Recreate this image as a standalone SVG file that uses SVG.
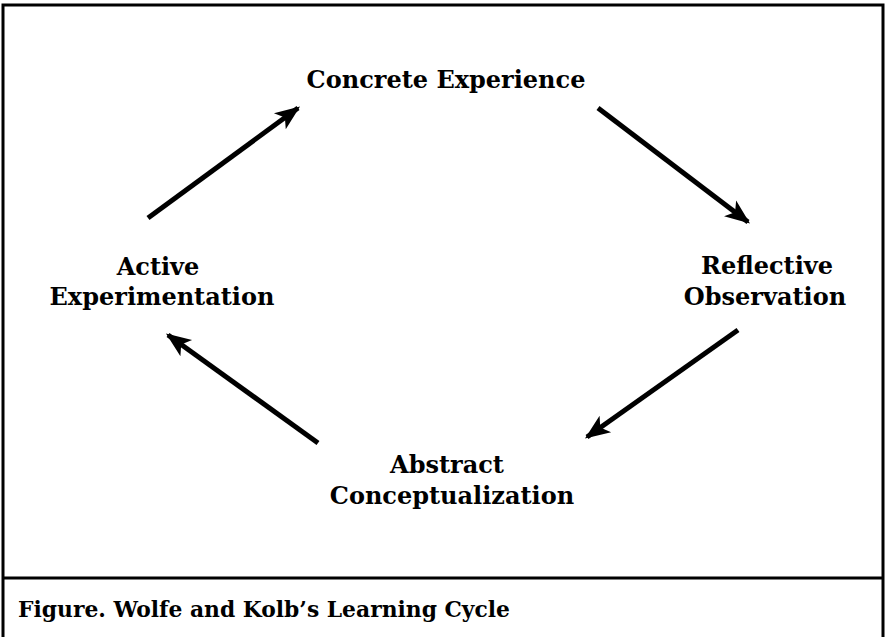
<svg xmlns="http://www.w3.org/2000/svg" width="886" height="637" viewBox="0 0 886 637">
<defs>
<style>
.lbl{font-family:"DejaVu Serif","Liberation Serif",serif;font-weight:bold;font-size:24px;fill:#000;text-anchor:middle}
.cap{font-family:"DejaVu Serif","Liberation Serif",serif;font-weight:bold;font-size:22px;fill:#000}
.conn line{stroke:#000;stroke-width:5;fill:none;marker-end:url(#ah)}
</style>
<marker id="ah" viewBox="0 0 10 10" refX="9" refY="5" markerWidth="5" markerHeight="5" orient="auto" markerUnits="strokeWidth">
<path d="M0,1 L10,5 L0,9 L2.5,5 Z" fill="#000"/>
</marker>
</defs>
<rect width="886" height="637" fill="#fff"/>
<g id="frame">
<path d="M3,637 V5 H883 V637" fill="none" stroke="#000" stroke-width="3"/>
<line x1="3" y1="578" x2="883" y2="578" stroke="#000" stroke-width="3"/>
</g>
<g id="concrete"><text class="lbl" x="446" y="88">Concrete Experience</text></g>
<g id="reflective"><text class="lbl" x="767" y="274">Reflective</text><text class="lbl" x="765" y="305">Observation</text></g>
<g id="abstract"><text class="lbl" x="447" y="473">Abstract</text><text class="lbl" x="452" y="504">Conceptualization</text></g>
<g id="active"><text class="lbl" x="158" y="275">Active</text><text class="lbl" x="162" y="305">Experimentation</text></g>
<g id="connectors" class="conn">
<line x1="148" y1="218" x2="298" y2="108"/>
<line x1="598" y1="108" x2="748" y2="222"/>
<line x1="738" y1="330" x2="587" y2="437"/>
<line x1="318" y1="443" x2="168" y2="335"/>
</g>
<g id="caption"><text class="cap" x="18" y="617" textLength="492" lengthAdjust="spacingAndGlyphs">Figure. Wolfe and Kolb’s Learning Cycle</text></g>
</svg>
